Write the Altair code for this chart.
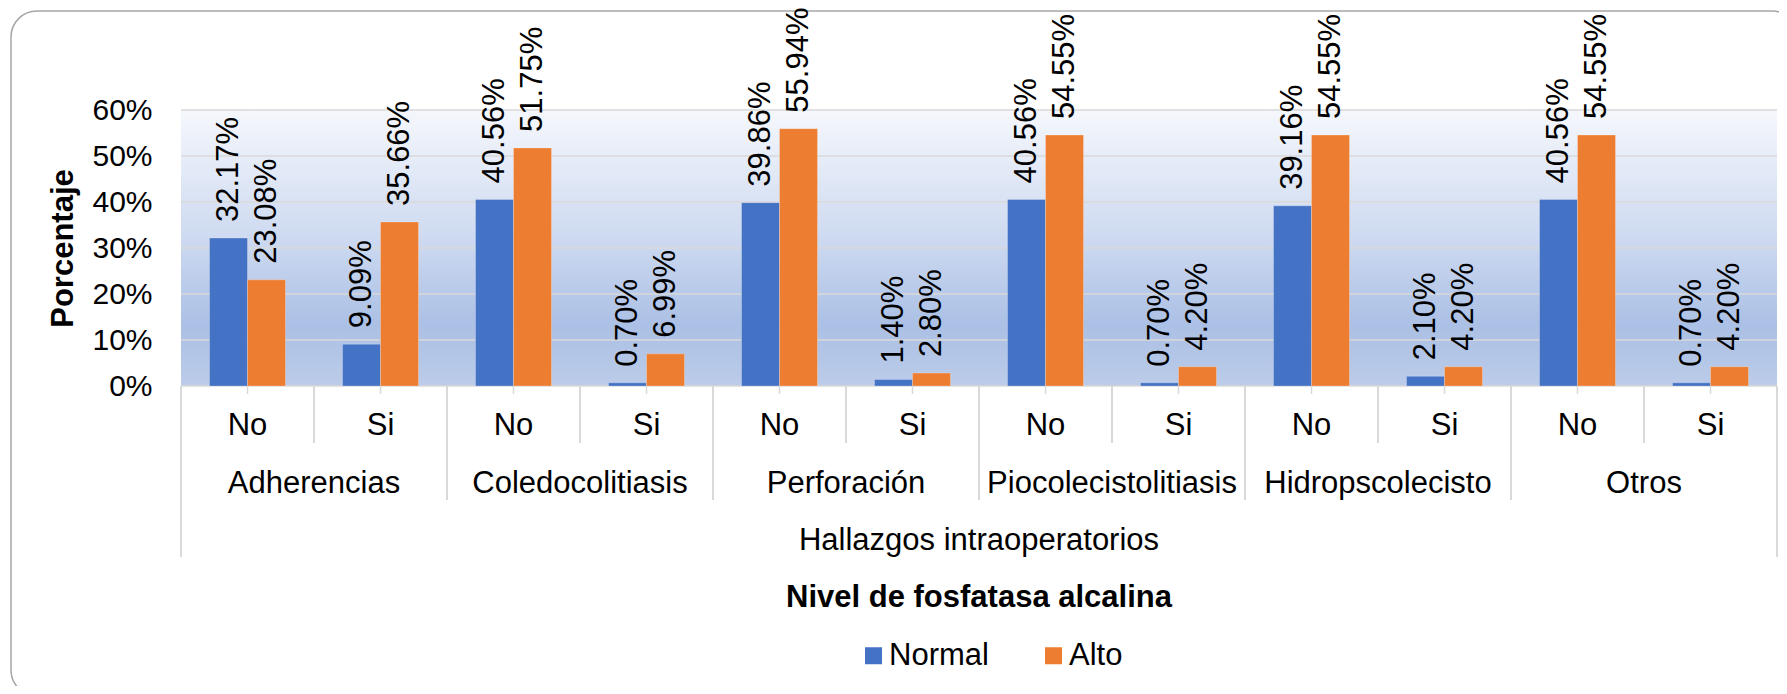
import altair as alt
import pandas as pd

# ---------------- data ----------------
groups = ["Adherencias", "Coledocolitiasis", "Perforación", "Piocolecistolitiasis",
          "Hidropscolecisto", "Otros"]
subs = ["No", "Si"]
series = ["Normal", "Alto"]
normal = [32.17, 9.09, 40.56, 0.70, 39.86, 1.40, 40.56, 0.70, 39.16, 2.10, 40.56, 0.70]
alto = [23.08, 35.66, 51.75, 6.99, 55.94, 2.80, 54.55, 4.20, 54.55, 4.20, 54.55, 4.20]
y_ticks = [0, 10, 20, 30, 40, 50, 60]
colors = ["#4472C4", "#ED7D31"]
x_title = "Hallazgos intraoperatorios"
y_title = "Porcentaje"
legend_title = "Nivel de fosfatasa alcalina"

# ---------------- tables ----------------
keys, key_group, key_sub = [], [], []
for g in groups:
    for s in subs:
        keys.append(f"{g} | {s}")
        key_group.append(g)
        key_sub.append(s)

rows = []
for i, k in enumerate(keys):
    rows.append({"key": k, "series": "Normal", "value": normal[i]})
    rows.append({"key": k, "series": "Alto", "value": alto[i]})
bars_df = pd.DataFrame(rows)
bars_df["label"] = bars_df["value"].map(lambda v: f"{v:.2f}%")

sub_df = pd.DataFrame({"key": keys, "sub": key_sub})
si_df = sub_df[sub_df["sub"] == "Si"]
no_df = pd.DataFrame({"key": [k for k, s in zip(keys, key_sub) if s == "No"], "group": groups})
inner_groups_df = no_df.iloc[1:]
first_df = pd.DataFrame({"key": [keys[0]]})
last_df = pd.DataFrame({"key": [keys[-1]]})
grid_df = pd.DataFrame({"value": y_ticks})
one_df = pd.DataFrame({"value": [0]})

# ---------------- layout ----------------
W, H = 1596, 276
FONT = "Liberation Sans, Arial, sans-serif"
FS = 31
GRAY = "#d9d9d9"

xscale = alt.Scale(domain=keys, paddingInner=0, paddingOuter=0)
X = alt.X("key:N", scale=xscale, axis=None)
X0 = alt.X("key:N", scale=xscale, axis=None, bandPosition=0)
X1 = alt.X("key:N", scale=xscale, axis=None, bandPosition=1)
XO = alt.XOffset("series:N", scale=alt.Scale(domain=series, paddingOuter=0.75, paddingInner=0))

yaxis = alt.Axis(values=y_ticks, labelExpr="datum.value + '%'", grid=False, domain=False,
                 ticks=False, labelFont=FONT, labelFontSize=30, labelColor="#000000",
                 labelPadding=29, title=y_title, titleFont=FONT, titleFontSize=31,
                 titleFontWeight="bold", titleColor="#000000", titleAngle=270,
                 titleX=-118, titleY=H / 2, titleAlign="center", titleBaseline="middle")
Y = alt.Y("value:Q", scale=alt.Scale(domain=[0, 60], nice=False), axis=yaxis)

gradient = alt.LinearGradient(
    gradient="linear", x1=0, y1=0, x2=0, y2=1,
    stops=[alt.GradientStop(offset=0, color="#f5f7fc"),
           alt.GradientStop(offset=0.45, color="#cfdbf1"),
           alt.GradientStop(offset=0.78, color="#abc0e5"),
           alt.GradientStop(offset=1, color="#bccce9")])

bg = alt.Chart(one_df).mark_rect(fill=gradient).encode(
    x=alt.value(0), x2=alt.value(W), y=alt.value(0), y2=alt.value(H))

grid = alt.Chart(grid_df).mark_rule(color=GRAY, strokeWidth=1.5).encode(y=Y)

bars = alt.Chart(bars_df).mark_bar(stroke="#ffffff", strokeOpacity=0.25, strokeWidth=1).encode(
    x=X, xOffset=XO, y=Y,
    color=alt.Color("series:N", scale=alt.Scale(domain=series, range=colors),
                    legend=alt.Legend(orient="none", legendX=677, legendY=530,
                                      direction="horizontal", title=None,
                                      symbolType="square", symbolSize=289,
                                      symbolStrokeWidth=0, labelFont=FONT,
                                      labelFontSize=FS, labelColor="#000000",
                                      labelOffset=0, columnPadding=49, padding=0)))

labels = alt.Chart(bars_df).mark_text(angle=270, align="left", baseline="middle", dx=16,
                                      font=FONT, fontSize=FS, color="#000000").encode(
    x=X, xOffset=XO, y=Y, text="label:N")

ticks = alt.Chart(sub_df).mark_rule(color=GRAY, strokeWidth=1.5).encode(
    x=X, y=alt.value(H), y2=alt.value(H + 8))
sub_div = alt.Chart(si_df).mark_rule(color=GRAY, strokeWidth=2).encode(
    x=X0, y=alt.value(H), y2=alt.value(333))
grp_div = alt.Chart(inner_groups_df).mark_rule(color=GRAY, strokeWidth=2).encode(
    x=X0, y=alt.value(H), y2=alt.value(390))
left_div = alt.Chart(first_df).mark_rule(color=GRAY, strokeWidth=2).encode(
    x=X0, y=alt.value(H), y2=alt.value(447))
right_div = alt.Chart(last_df).mark_rule(color=GRAY, strokeWidth=2).encode(
    x=X1, y=alt.value(H), y2=alt.value(447))

sub_txt = alt.Chart(sub_df).mark_text(font=FONT, fontSize=FS, color="#000000",
                                      baseline="alphabetic").encode(
    x=X, y=alt.value(325), text="sub:N")
grp_txt = alt.Chart(no_df).mark_text(font=FONT, fontSize=FS, color="#000000",
                                     baseline="alphabetic").encode(
    x=X1, y=alt.value(383), text="group:N")
xt_txt = alt.Chart(one_df).mark_text(text=x_title, font=FONT, fontSize=FS, color="#000000",
                                     baseline="alphabetic").encode(
    x=alt.value(W / 2), y=alt.value(440))
lt_txt = alt.Chart(one_df).mark_text(text=legend_title, font=FONT, fontSize=FS,
                                     fontWeight="bold", color="#000000",
                                     baseline="alphabetic").encode(
    x=alt.value(W / 2), y=alt.value(497))

frame = alt.Chart(one_df).mark_rect(fill=None, stroke="#a6a6a6", strokeWidth=1.5,
                                    cornerRadius=26).encode(
    x=alt.value(-170), x2=alt.value(1617), y=alt.value(-99), y2=alt.value(586))

chart = alt.layer(
    frame, bg, grid, bars, labels, ticks, sub_div, grp_div, left_div, right_div,
    sub_txt, grp_txt, xt_txt, lt_txt
).properties(
    width=W, height=H,
    autosize=alt.AutoSizeParams(type="none"),
    padding={"left": 173, "top": 102, "right": 2, "bottom": 300},
    background="#ffffff",
).configure_view(stroke=None)

chart.save("out.html", embed_options={"renderer": "svg", "actions": False})
